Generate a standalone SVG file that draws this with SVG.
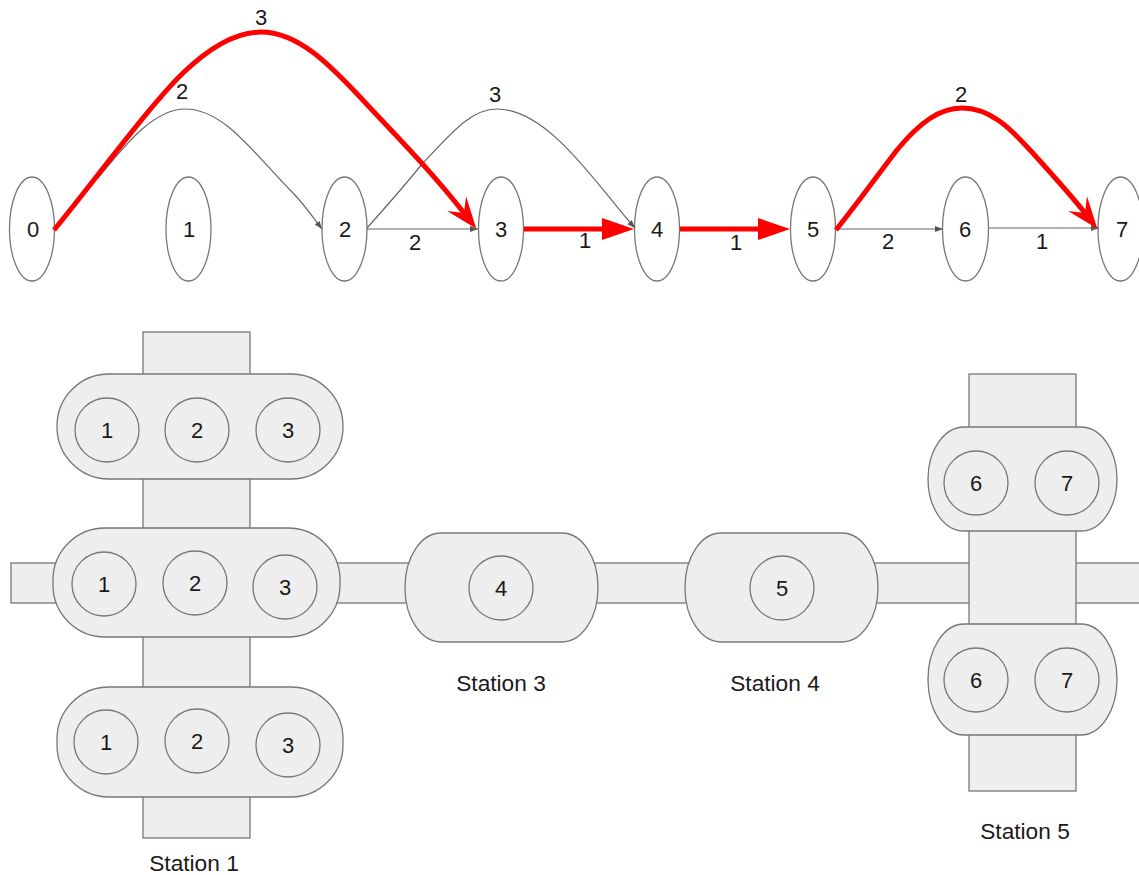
<svg xmlns="http://www.w3.org/2000/svg" width="1139" height="875" viewBox="0 0 1139 875">
<style>
.t{font-family:"Liberation Sans",Arial,sans-serif;font-size:22px;fill:#1a1a1a;text-anchor:middle}
.s{font-size:22.700px}
.n{fill:#fff;stroke:#777;stroke-width:1.300}
.b{fill:#eee;stroke:#777;stroke-width:1.300}
.g{fill:none;stroke:#666;stroke-width:1.200}
.r{fill:none;stroke:#f00;stroke-width:5}
</style>
<defs>
<marker id="stealth" markerUnits="userSpaceOnUse" markerWidth="34" markerHeight="30" viewBox="0 0 34 30" refX="12" refY="15" orient="auto"><path d="M0 3 L32 15 L0 27 L12 15 Z" fill="#f00"/></marker>
<marker id="block" markerUnits="userSpaceOnUse" markerWidth="32" markerHeight="24" viewBox="0 0 32 24" refX="2" refY="12" orient="auto"><path d="M0 1 L32 12 L0 23 Z" fill="#f00"/></marker>
<marker id="tri" markerUnits="userSpaceOnUse" markerWidth="10" markerHeight="8" viewBox="0 0 10 8" refX="8" refY="4" orient="auto"><path d="M0 1 L8 4 L0 7 Z" fill="#555"/></marker>
</defs>
<g id="track">
<rect class="b" x="11" y="563" width="1140" height="40"/>
<rect class="b" x="143" y="332" width="107" height="506"/>
<rect class="b" x="969" y="374" width="107" height="417"/>
</g>
<g id="graph-nodes">
<g id="g0"><ellipse class="n" cx="32" cy="229" rx="22.500" ry="52"/><text class="t" x="33" y="237">0</text></g>
<g id="g1"><ellipse class="n" cx="188.500" cy="229" rx="22.500" ry="52"/><text class="t" x="189" y="237">1</text></g>
<g id="g2"><ellipse class="n" cx="344.500" cy="229" rx="22.500" ry="52"/><text class="t" x="345" y="237">2</text></g>
<g id="g3"><ellipse class="n" cx="501" cy="229" rx="22.500" ry="52"/><text class="t" x="501" y="237">3</text></g>
<g id="g4"><ellipse class="n" cx="657" cy="229" rx="22.500" ry="52"/><text class="t" x="657" y="237">4</text></g>
<g id="g5"><ellipse class="n" cx="813" cy="229" rx="22.500" ry="52"/><text class="t" x="813" y="237">5</text></g>
<g id="g6"><ellipse class="n" cx="965.500" cy="229" rx="23" ry="52"/><text class="t" x="965" y="237">6</text></g>
<g id="g7"><ellipse class="n" cx="1120.500" cy="229" rx="22.500" ry="52"/><text class="t" x="1122" y="237">7</text></g>
</g>
<g id="connectors">
<path class="g" d="M98 178 C118 155,150 109,185 109 C225 109,255 155,293 193 C303 203,312 216,322 229" marker-end="url(#tri)"/>
<path class="g" d="M367 228 C385 208,405 185,423 163 C450 135,470 109,497 109 C550 109,600 190,635 228" marker-end="url(#tri)"/>
<path class="g" d="M367 229 L478 229" marker-end="url(#tri)"/>
<path class="g" d="M836 229 L943 229" marker-end="url(#tri)"/>
<path class="g" d="M989 228 L1099 228" marker-end="url(#tri)"/>
<path class="r" d="M54 230 C95 180,150 105,183 73 C210 47,235 32,261 32 C298 32,330 65,360 97 C400 140,432 172,464 213" marker-end="url(#stealth)"/>
<path class="r" d="M836 230 C860 200,880 172,897 150 C920 122,940 108,962 108 C990 108,1010 128,1030 150 C1050 172,1070 194,1085 213" marker-end="url(#stealth)"/>
<path class="r" d="M524 229 L604 229" marker-end="url(#block)"/>
<path class="r" d="M680 229 L760 229" marker-end="url(#block)"/>
<text class="t" x="261" y="25">3</text>
<text class="t" x="182" y="99">2</text>
<text class="t" x="495" y="102">3</text>
<text class="t" x="961" y="102">2</text>
<text class="t" x="415" y="250">2</text>
<text class="t" x="585" y="248">1</text>
<text class="t" x="736" y="250">1</text>
<text class="t" x="888" y="249">2</text>
<text class="t" x="1042" y="249">1</text>
</g>
<g id="station1-top"><rect class="b" x="57" y="374" width="286" height="105" rx="52" ry="52"/>
<circle class="b" cx="107" cy="430" r="32"/><text class="t" x="107" y="438">1</text>
<circle class="b" cx="197" cy="430" r="32"/><text class="t" x="197" y="438">2</text>
<circle class="b" cx="288" cy="430" r="32"/><text class="t" x="288" y="438">3</text></g>
<g id="station1-mid"><rect class="b" x="53" y="528" width="287" height="109" rx="52" ry="52"/>
<circle class="b" cx="104" cy="584" r="32"/><text class="t" x="104" y="592">1</text>
<circle class="b" cx="195" cy="583" r="32"/><text class="t" x="195" y="591">2</text>
<circle class="b" cx="285" cy="587" r="32"/><text class="t" x="285" y="595">3</text></g>
<g id="station1-bot"><rect class="b" x="57" y="687" width="286" height="110" rx="52" ry="52"/>
<circle class="b" cx="106" cy="742" r="32"/><text class="t" x="106" y="750">1</text>
<circle class="b" cx="197" cy="741" r="32"/><text class="t" x="197" y="749">2</text>
<circle class="b" cx="288" cy="745" r="32"/><text class="t" x="288" y="753">3</text></g>
<g id="station3"><rect class="b" x="405" y="533" width="193" height="109" rx="36" ry="54"/>
<circle class="b" cx="501" cy="588" r="32"/><text class="t" x="501" y="596">4</text></g>
<g id="station4"><rect class="b" x="685" y="533" width="193" height="109" rx="36" ry="54"/>
<circle class="b" cx="782" cy="588" r="32"/><text class="t" x="782" y="596">5</text></g>
<g id="station5-top"><rect class="b" x="928" y="427" width="189" height="104" rx="36" ry="52"/>
<circle class="b" cx="976" cy="483" r="32"/><text class="t" x="976" y="491">6</text>
<circle class="b" cx="1067" cy="483" r="32"/><text class="t" x="1067" y="491">7</text></g>
<g id="station5-bot"><rect class="b" x="928" y="624" width="189" height="111" rx="36" ry="55"/>
<circle class="b" cx="976" cy="680" r="32"/><text class="t" x="976" y="688">6</text>
<circle class="b" cx="1067" cy="680" r="32"/><text class="t" x="1067" y="688">7</text></g>
<g id="labels">
<text class="t s" x="194" y="871">Station 1</text>
<text class="t s" x="501" y="691">Station 3</text>
<text class="t s" x="775" y="691">Station 4</text>
<text class="t s" x="1025" y="839">Station 5</text>
</g>
</svg>
